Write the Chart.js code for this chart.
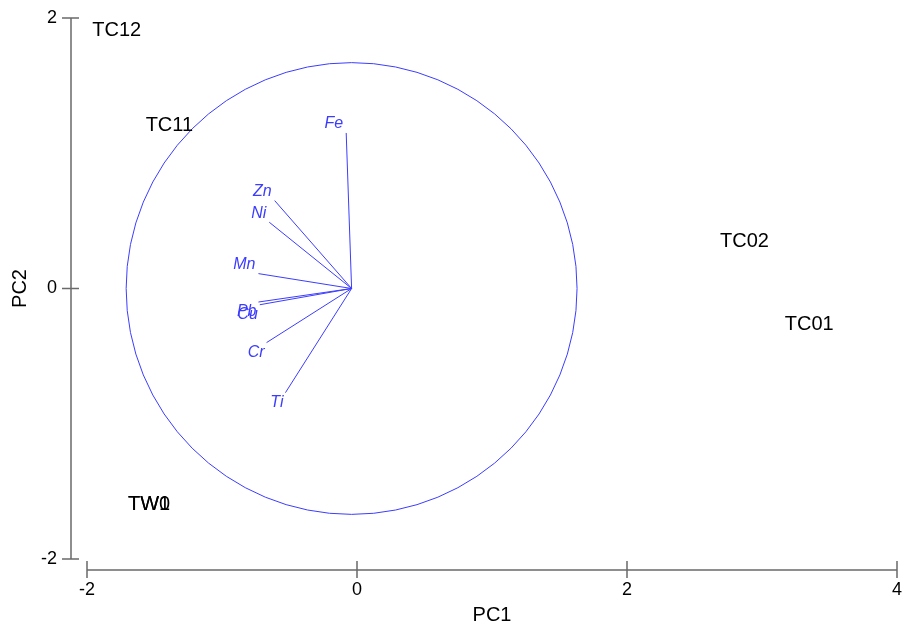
<!DOCTYPE html>
<html>
<head>
<meta charset="utf-8">
<script src="https://cdn.jsdelivr.net/npm/chart.js@4/dist/chart.umd.min.js"></script>
<style>
html, body { margin: 0; padding: 0; background: #fff; }
#wrap { width: 903px; height: 628px; }
</style>
</head>
<body>
<div id="wrap"><canvas id="pcaChart"></canvas></div>
<script>
// sample scores
var sampleNames = ['TC12', 'TC11', 'TC02', 'TC01', 'TW0', 'TW1'];
var samplePC1 = [-1.78, -1.39, 2.87, 3.35, -1.54, -1.54];
var samplePC2 = [1.92, 1.22, 0.36, -0.25, -1.58, -1.58];

// variable loadings
var varNames = ['Fe', 'Zn', 'Ni', 'Mn', 'Pb', 'Cu', 'Cr', 'Ti'];
var varPC1 = [-0.08, -0.61, -0.65, -0.73, -0.73, -0.72, -0.67, -0.53];
var varPC2 = [1.15, 0.65, 0.49, 0.11, -0.10, -0.12, -0.40, -0.77];
var origin = [-0.04, 0];
var circleRadius = 1.67;

var xTicks = [-2, 0, 2, 4];
var yTicks = [-2, 0, 2];

var fontFamily = 'Arial, "Liberation Sans", sans-serif';
var blue = 'rgb(60, 60, 255)';
var axisGrey = '#6a6a6a';

var datasets = [];
datasets.push({
	label: 'samples',
	data: samplePC1.map(function(x, i) { return { x: x, y: samplePC2[i] }; }),
	pointRadius: 0,
	showLine: false
});
varNames.forEach(function(name, i) {
	datasets.push({
		label: name,
		data: [{ x: origin[0], y: origin[1] }, { x: varPC1[i], y: varPC2[i] }],
		showLine: true,
		borderColor: blue,
		borderWidth: 1,
		pointRadius: 0
	});
});

var biplotPlugin = {
	id: 'biplot',
	afterDatasetsDraw: function(chart) {
		var ctx = chart.ctx;
		var xs = chart.scales.x, ys = chart.scales.y;
		var area = chart.chartArea;
		ctx.save();

		// correlation circle
		var cx = xs.getPixelForValue(origin[0]);
		var cy = ys.getPixelForValue(origin[1]);
		var rx = Math.abs(xs.getPixelForValue(origin[0] + circleRadius) - cx);
		var ry = Math.abs(ys.getPixelForValue(origin[1] + circleRadius) - cy);
		ctx.strokeStyle = blue;
		ctx.lineWidth = 1;
		ctx.beginPath();
		ctx.ellipse(cx, cy, rx, ry, 0, 0, Math.PI * 2);
		ctx.stroke();

		// variable labels
		ctx.fillStyle = blue;
		ctx.font = 'italic 16px ' + fontFamily;
		ctx.textAlign = 'right';
		varNames.forEach(function(name, i) {
			var px = xs.getPixelForValue(varPC1[i]);
			var py = ys.getPixelForValue(varPC2[i]);
			if (varPC2[i] >= 0) {
				ctx.textBaseline = 'bottom';
				ctx.fillText(name, px - 3, py - 1);
			} else {
				ctx.textBaseline = 'top';
				ctx.fillText(name, px - 2, py + 2);
			}
		});

		// sample labels
		ctx.fillStyle = '#000';
		ctx.font = '20px ' + fontFamily;
		ctx.textAlign = 'center';
		ctx.textBaseline = 'middle';
		sampleNames.forEach(function(name, i) {
			ctx.fillText(name, xs.getPixelForValue(samplePC1[i]), ys.getPixelForValue(samplePC2[i]) + 2);
		});

		// offset axes
		ctx.strokeStyle = axisGrey;
		ctx.lineWidth = 1.5;
		var ax = area.left - 16;
		var ay = area.bottom + 11;
		ctx.beginPath();
		ctx.moveTo(ax, ys.getPixelForValue(yTicks[yTicks.length - 1]));
		ctx.lineTo(ax, ys.getPixelForValue(yTicks[0]));
		yTicks.forEach(function(v) {
			var p = ys.getPixelForValue(v);
			ctx.moveTo(ax - 9, p);
			ctx.lineTo(ax + 8, p);
		});
		ctx.moveTo(xs.getPixelForValue(xTicks[0]), ay);
		ctx.lineTo(xs.getPixelForValue(xTicks[xTicks.length - 1]), ay);
		xTicks.forEach(function(v) {
			var p = xs.getPixelForValue(v);
			ctx.moveTo(p, ay - 9);
			ctx.lineTo(p, ay + 8);
		});
		ctx.stroke();
		ctx.restore();
	}
};

new Chart(document.getElementById('pcaChart'), {
	type: 'scatter',
	data: { datasets: datasets },
	options: {
		responsive: true,
		maintainAspectRatio: false,
		animation: false,
		layout: { padding: { left: 0, right: 6, top: 18, bottom: 0 } },
		plugins: {
			legend: { display: false },
			tooltip: { enabled: false }
		},
		scales: {
			x: {
				type: 'linear',
				min: -2,
				max: 4,
				afterBuildTicks: function(scale) {
					scale.ticks = xTicks.map(function(v) { return { value: v }; });
				},
				afterFit: function(scale) {
					scale.height = 69;
					scale.paddingLeft = 0;
					scale.paddingRight = 0;
				},
				grid: { display: false, drawTicks: false },
				border: { display: false },
				ticks: { padding: 20, color: '#000', font: { family: fontFamily, size: 18 } },
				title: {
					display: true,
					text: 'PC1',
					color: '#000',
					font: { family: fontFamily, size: 20 },
					padding: { top: 0, bottom: 1 }
				}
			},
			y: {
				type: 'linear',
				min: -2,
				max: 2,
				afterBuildTicks: function(scale) {
					scale.ticks = yTicks.map(function(v) { return { value: v }; });
				},
				afterFit: function(scale) {
					scale.width = 87;
					scale.paddingTop = 0;
					scale.paddingBottom = 0;
				},
				grid: { display: false, drawTicks: false },
				border: { display: false },
				ticks: { padding: 30, color: '#000', font: { family: fontFamily, size: 18 } },
				title: {
					display: true,
					text: 'PC2',
					color: '#000',
					font: { family: fontFamily, size: 20 },
					padding: { top: 8, bottom: 0 }
				}
			}
		}
	},
	plugins: [biplotPlugin]
});
</script>
</body>
</html>
